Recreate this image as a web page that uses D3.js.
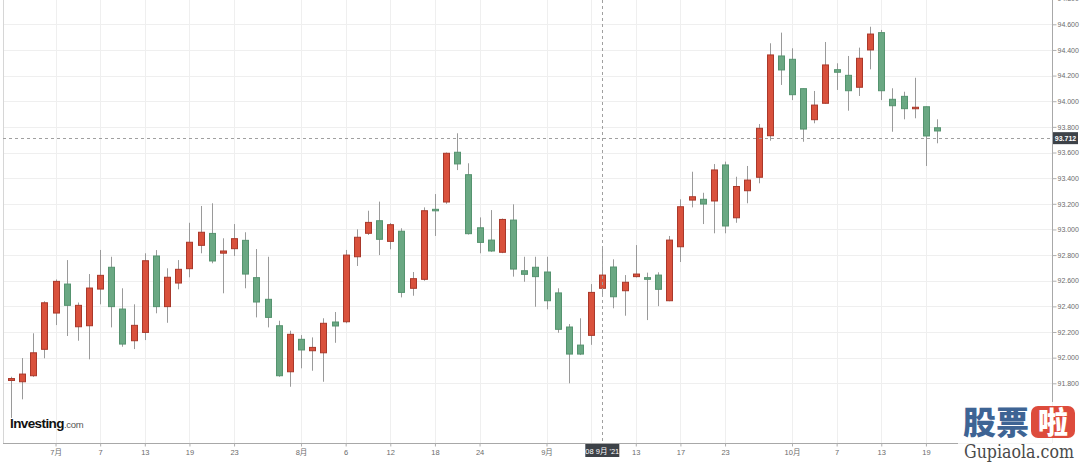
<!DOCTYPE html>
<html>
<head>
<meta charset="utf-8">
<script src="https://cdn.jsdelivr.net/npm/d3@7"></script>
<style>
html,body{margin:0;padding:0;background:#fff;}
svg{display:block;font-family:Arial,"Liberation Sans",sans-serif;}
</style>
</head>
<body>
<svg id="chart" width="1080" height="462"></svg>
<script>
const dates = [
"2021-06-25","2021-06-28","2021-06-29","2021-06-30",
"2021-07-01","2021-07-02","2021-07-05","2021-07-06","2021-07-07","2021-07-08","2021-07-09","2021-07-12","2021-07-13","2021-07-14","2021-07-15","2021-07-16","2021-07-19","2021-07-20","2021-07-21","2021-07-22","2021-07-23","2021-07-26","2021-07-27","2021-07-28","2021-07-29","2021-07-30",
"2021-08-02","2021-08-03","2021-08-04","2021-08-05","2021-08-06","2021-08-09","2021-08-10","2021-08-11","2021-08-12","2021-08-13","2021-08-16","2021-08-17","2021-08-18","2021-08-19","2021-08-20","2021-08-23","2021-08-24","2021-08-25","2021-08-26","2021-08-27","2021-08-30","2021-08-31",
"2021-09-01","2021-09-02","2021-09-03","2021-09-06","2021-09-07","2021-09-08","2021-09-09","2021-09-10","2021-09-13","2021-09-14","2021-09-15","2021-09-16","2021-09-17","2021-09-20","2021-09-21","2021-09-22","2021-09-23","2021-09-24","2021-09-27","2021-09-28","2021-09-29","2021-09-30",
"2021-10-01","2021-10-04","2021-10-05","2021-10-06","2021-10-07","2021-10-08","2021-10-11","2021-10-12","2021-10-13","2021-10-14","2021-10-15","2021-10-18","2021-10-19","2021-10-20"
];
const open = [91.822,91.812,91.859,92.065,92.348,92.574,92.241,92.249,92.535,92.705,92.379,92.132,92.197,92.793,92.398,92.582,92.694,92.876,92.969,92.815,92.850,92.915,92.624,92.455,92.249,91.890,92.143,92.054,92.038,92.278,92.280,92.787,92.970,93.068,92.907,92.986,92.541,92.611,93.157,93.214,93.602,93.427,93.013,92.917,92.822,93.073,92.678,92.705,92.668,92.505,92.239,92.098,92.174,92.541,92.707,92.522,92.632,92.624,92.644,92.444,92.865,93.229,93.235,93.222,93.503,93.091,93.302,93.407,93.731,94.353,94.327,94.098,93.856,93.984,94.246,94.202,94.109,94.400,94.535,94.015,94.038,93.942,93.957,93.793];
const high = [91.851,91.997,92.190,92.440,92.610,92.761,92.430,92.652,92.840,92.787,92.541,92.416,92.814,92.839,92.697,92.761,93.052,93.183,93.204,92.931,93.042,92.978,92.847,92.787,92.288,92.210,92.176,92.158,92.307,92.356,92.840,93.001,93.146,93.217,93.050,93.009,92.668,93.172,93.276,93.600,93.750,93.516,93.094,93.151,93.085,93.196,92.787,92.787,92.787,92.541,92.262,92.307,92.574,92.865,92.767,92.644,92.878,92.663,92.666,92.949,93.235,93.450,93.286,93.510,93.529,93.411,93.495,93.822,94.452,94.535,94.413,94.100,94.080,94.462,94.296,94.353,94.418,94.581,94.556,94.101,94.074,94.183,93.960,93.859];
const low = [91.530,91.675,91.850,91.995,92.254,92.169,92.132,91.987,92.416,92.236,92.085,92.067,92.137,92.346,92.272,92.533,92.627,92.814,92.736,92.502,92.793,92.541,92.314,92.236,91.851,91.773,91.917,91.898,91.812,92.116,92.268,92.715,92.957,92.800,92.845,92.470,92.483,92.600,92.949,93.200,93.463,92.960,92.814,92.825,92.815,92.632,92.592,92.397,92.377,92.194,91.800,92.020,92.100,92.475,92.385,92.327,92.625,92.293,92.402,92.440,92.746,93.172,93.042,92.970,92.970,93.052,93.204,93.360,93.692,94.127,94.009,93.684,93.828,93.980,94.088,93.926,94.041,94.249,94.009,93.762,93.859,93.867,93.495,93.672];
const close = [91.837,91.872,92.038,92.428,92.595,92.408,92.408,92.543,92.642,92.398,92.106,92.252,92.756,92.398,92.627,92.689,92.900,92.978,92.754,92.832,92.928,92.652,92.434,92.314,91.859,92.182,92.060,92.080,92.268,92.247,92.800,92.939,93.055,92.923,93.037,92.509,92.616,93.146,93.146,93.594,93.511,92.967,92.899,92.832,93.078,92.691,92.650,92.632,92.444,92.221,92.028,92.028,92.509,92.644,92.475,92.588,92.652,92.611,92.533,92.917,93.177,93.255,93.198,93.464,93.027,93.335,93.385,93.789,94.361,94.244,94.051,93.783,93.970,94.283,94.226,94.082,94.335,94.524,94.082,93.965,93.942,93.953,93.729,93.768];

const yTicks = [91.8,92.0,92.2,92.4,92.6,92.8,93.0,93.2,93.4,93.6,93.8,94.0,94.2,94.4,94.6,94.8];
const xTickDates = ["2021-07-01","2021-07-07","2021-07-13","2021-07-19","2021-07-23","2021-08-02","2021-08-06","2021-08-12","2021-08-18","2021-08-24","2021-09-01","2021-09-07","2021-09-13","2021-09-17","2021-09-23","2021-10-01","2021-10-07","2021-10-13","2021-10-19"];
const xTickLabels = ["7月","7","13","19","23","8月","6","12","18","24","9月","","13","17","23","10月","7","13","19"];
const crossPrice = 93.712;
const crossDate = "2021-09-08";
const crossDateLabel = "08 9月 '21";

const svg = d3.select("#chart");
const plotLeft = 3, plotRight = 1052, plotTop = 0, plotBottom = 443;

const idx = d => dates.indexOf(d);
const x = d3.scaleLinear().domain([0, 93.3]).range([10.9, plotRight]);
const y = d3.scaleLinear().domain([91.8, 94.6]).range([383.3, 24.3]);

// grid
const grid = svg.append("g");
grid.selectAll("line.h").data(yTicks).join("line")
  .attr("x1", plotLeft).attr("x2", plotRight)
  .attr("y1", d => Math.round(y(d)) + 0.5).attr("y2", d => Math.round(y(d)) + 0.5)
  .attr("stroke", "#efefef").attr("stroke-width", 1);
grid.selectAll("line.v").data(xTickDates).join("line")
  .attr("x1", d => Math.round(x(idx(d))) + 0.5).attr("x2", d => Math.round(x(idx(d))) + 0.5)
  .attr("y1", plotTop).attr("y2", plotBottom)
  .attr("stroke", "#efefef").attr("stroke-width", 1);

// left border
svg.append("line").attr("x1", plotLeft + 0.5).attr("x2", plotLeft + 0.5).attr("y1", 0).attr("y2", plotBottom)
  .attr("stroke", "#d6d6d6");

// candles
const data = dates.map((d, i) => ({d, i, o: open[i], h: high[i], l: low[i], c: close[i]}));
const bw = 7;
const g = svg.append("g");
g.selectAll("line.wick").data(data).join("line")
  .attr("x1", d => Math.round(x(d.i)) + 0.5).attr("x2", d => Math.round(x(d.i)) + 0.5)
  .attr("y1", d => y(d.h)).attr("y2", d => y(d.l))
  .attr("stroke", "#9a9a9a").attr("stroke-width", 1);
g.selectAll("rect.body").data(data).join("rect")
  .attr("x", d => Math.round(x(d.i)) - 3 + 0.5)
  .attr("y", d => y(Math.max(d.o, d.c)))
  .attr("width", bw - 1)
  .attr("height", d => Math.max(1.5, Math.abs(y(d.o) - y(d.c))))
  .attr("fill", d => d.c >= d.o ? "#d9513c" : "#6aa883")
  .attr("stroke", d => d.c >= d.o ? "#a9382a" : "#55936f")
  .attr("stroke-width", 1);

// crosshair
svg.append("line").attr("x1", plotLeft).attr("x2", plotRight)
  .attr("y1", Math.round(y(crossPrice)) + 0.5).attr("y2", Math.round(y(crossPrice)) + 0.5)
  .attr("stroke", "#a0a0a0").attr("stroke-dasharray", "3,3");
svg.append("line").attr("x1", Math.round(x(idx(crossDate))) + 0.5).attr("x2", Math.round(x(idx(crossDate))) + 0.5)
  .attr("y1", 0).attr("y2", plotBottom)
  .attr("stroke", "#a0a0a0").attr("stroke-dasharray", "3,3");

// y axis (right)
const yAxis = d3.axisRight(y).tickValues(yTicks).tickSize(4).tickPadding(1)
  .tickFormat(d3.format(".3f"));
const ya = svg.append("g").attr("transform", `translate(${plotRight + 0.5},0)`).call(yAxis);
ya.select(".domain").attr("stroke", "#a8a8a8").attr("d", `M0,0V${plotBottom}`);
ya.selectAll(".tick line").attr("stroke", "#b0b0b0");
ya.selectAll(".tick text").attr("fill", "#6b6b6b").style("font-size", "7px").attr("font-family", "Arial, Liberation Sans, sans-serif");

// x axis
const xAxis = d3.axisBottom(x).tickValues(xTickDates.map(idx)).tickSize(3).tickPadding(3)
  .tickFormat((d, i) => xTickLabels[i]);
const xa = svg.append("g").attr("transform", `translate(0,${plotBottom + 0.5})`).call(xAxis);
xa.select(".domain").attr("stroke", "#a8a8a8").attr("d", `M${plotLeft},0H${plotRight}`);
xa.selectAll(".tick line").attr("stroke", "#b0b0b0");
xa.selectAll(".tick text").attr("fill", "#6b6b6b").style("font-size", "7.5px").attr("font-family", "Arial, Liberation Sans, 'Noto Sans CJK SC', sans-serif");

// crosshair labels
const cy = y(crossPrice);
svg.append("rect").attr("x", plotRight + 1).attr("y", cy - 6).attr("width", 25).attr("height", 12).attr("fill", "#3d4248");
svg.append("text").attr("x", plotRight + 13.5).attr("y", cy + 2.5).attr("text-anchor", "middle")
  .attr("fill", "#fff").style("font-size", "7px").style("font-weight", "bold").text(d3.format(".3f")(crossPrice));
const cx = x(idx(crossDate));
svg.append("rect").attr("x", cx - 17).attr("y", plotBottom + 1).attr("width", 34).attr("height", 13).attr("fill", "#3d4248");
svg.append("text").attr("x", cx).attr("y", plotBottom + 10.5).attr("text-anchor", "middle")
  .attr("fill", "#fff").style("font-size", "7.5px").style("font-family", "Arial, 'Noto Sans CJK SC', sans-serif").text(crossDateLabel);

// Investing.com logo
const logo = svg.append("text").attr("x", 10).attr("y", 428);
logo.append("tspan").text("Investing").style("font-size", "13.5px").style("font-weight", "bold").attr("fill", "#111").style("letter-spacing", "-0.6px");
logo.append("tspan").text(".com").style("font-size", "9.5px").attr("fill", "#555").style("letter-spacing", "-0.3px");

// watermark
const wm = svg.append("g");
wm.append("rect").attr("x", 958).attr("y", 402).attr("width", 122).attr("height", 60).attr("fill", "#fff").attr("opacity", 0.85);
wm.append("text").attr("x", 963).attr("y", 434).text("股票")
  .style("font-family", "'Noto Sans CJK SC', sans-serif").style("font-weight", "900").style("font-size", "32px")
  .attr("fill", "#3e6494").attr("textLength", 66).attr("lengthAdjust", "spacingAndGlyphs");
wm.append("rect").attr("x", 1031).attr("y", 406).attr("width", 44).attr("height", 32).attr("rx", 7).attr("fill", "#dd4b3c");
wm.append("text").attr("x", 1053).attr("y", 433).attr("text-anchor", "middle").text("啦")
  .style("font-family", "'Noto Sans CJK SC', sans-serif").style("font-weight", "900").style("font-size", "30px")
  .attr("fill", "#fff");
wm.append("text").attr("x", 964).attr("y", 458).text("Gupiaola.com")
  .style("font-family", "'DejaVu Serif', 'Liberation Serif', serif").style("font-size", "18px")
  .attr("fill", "#4a4a4a").attr("textLength", 110).attr("lengthAdjust", "spacingAndGlyphs");
</script>
</body>
</html>
